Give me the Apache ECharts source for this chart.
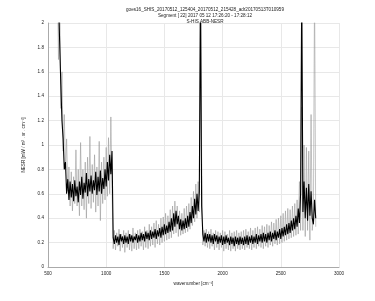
<!DOCTYPE html>
<html>
<head>
<meta charset="utf-8">
<script src="https://cdn.jsdelivr.net/npm/echarts@6/dist/echarts.min.js"></script>
<style>html,body{margin:0;padding:0;background:#fff}#c{width:375px;height:301px}</style>
</head>
<body>
<div id="c"></div>
<script>
// wavenumber grid [cm^-1]
var wavenumber = [
580,590,600,610,620,630,640,650,660,670,
680,690,700,710,720,730,740,750,760,770,
780,790,800,810,820,830,840,850,860,870,
880,890,900,910,920,930,940,950,960,970,
980,990,1000,1010,1020,1030,1040,1050,1060,1070,
1080,1090,1100,1110,1120,1130,1140,1150,1160,1170,
1180,1190,1200,1210,1220,1230,1240,1250,1260,1270,
1280,1290,1300,1310,1320,1330,1340,1350,1360,1370,
1380,1390,1400,1410,1420,1430,1440,1450,1460,1470,
1480,1490,1500,1510,1520,1530,1540,1550,1560,1570,
1580,1590,1600,1610,1620,1630,1640,1650,1660,1670,
1680,1690,1700,1710,1720,1730,1740,1750,1760,1770,
1780,1790,1800,1810,1820,1830,1840,1850,1860,1870,
1880,1890,1900,1910,1920,1930,1940,1950,1960,1970,
1980,1990,2000,2010,2020,2030,2040,2050,2060,2070,
2080,2090,2100,2110,2120,2130,2140,2150,2160,2170,
2180,2190,2200,2210,2220,2230,2240,2250,2260,2270,
2280,2290,2300,2310,2320,2330,2340,2350,2360,2370,
2380,2390,2400,2410,2420,2430,2440,2450,2460,2470,
2480,2490,2500,2510,2520,2530,2540,2550,2560,2570,
2580,2590,2600,2610,2620,2630,2640,2650,2660,2670,
2680,2690,2700,2710,2720,2730,2740,2750,2760,2770,
2780,2790,2800
];
// dense core trace (black)
var nesrCore = [
2.4,2.2,1.85,1.5,1.2,1.05,0.8,0.86,0.6,0.72,
0.55,0.7,0.57,0.68,0.54,0.71,0.58,0.66,0.53,0.7,
0.59,0.74,0.56,0.69,0.61,0.77,0.58,0.72,0.62,0.75,
0.6,0.71,0.63,0.78,0.59,0.74,0.62,0.79,0.6,0.73,
0.64,0.8,0.66,0.86,0.71,0.92,0.76,0.95,0.24,0.19,
0.26,0.2,0.25,0.18,0.27,0.21,0.25,0.19,0.26,0.2,
0.25,0.19,0.27,0.21,0.26,0.2,0.25,0.22,0.27,0.2,
0.26,0.21,0.28,0.22,0.27,0.21,0.29,0.23,0.28,0.22,
0.3,0.23,0.29,0.24,0.31,0.23,0.3,0.25,0.32,0.24,
0.33,0.26,0.35,0.27,0.34,0.28,0.37,0.29,0.4,0.3,
0.44,0.33,0.46,0.35,0.42,0.31,0.39,0.3,0.38,0.31,
0.4,0.32,0.42,0.33,0.45,0.36,0.5,0.4,0.56,0.43,
0.6,0.46,0.62,2.3,0.5,0.27,0.21,0.28,0.2,0.27,
0.21,0.27,0.2,0.26,0.19,0.27,0.21,0.26,0.19,0.25,
0.2,0.26,0.18,0.25,0.19,0.26,0.2,0.24,0.18,0.25,
0.19,0.24,0.17,0.25,0.19,0.24,0.18,0.25,0.19,0.24,
0.18,0.25,0.19,0.26,0.18,0.25,0.2,0.26,0.19,0.25,
0.2,0.27,0.19,0.26,0.21,0.27,0.2,0.28,0.21,0.27,
0.2,0.28,0.22,0.29,0.21,0.28,0.23,0.3,0.22,0.29,
0.24,0.31,0.23,0.32,0.25,0.33,0.26,0.35,0.27,0.36,
0.28,0.38,0.3,0.4,0.31,0.42,0.33,0.48,0.36,0.6,
2.3,0.45,0.7,0.4,0.65,0.38,0.68,0.42,0.62,0.4,
0.35,0.55,0.4
];
// outlier trace (gray)
var nesrSpread = [
2.5,1.7,2.4,1.3,1.6,0.95,1.25,0.8,1.05,0.62,
0.82,0.5,0.78,0.46,0.74,0.52,0.96,0.5,0.8,0.42,
1.02,0.5,0.8,0.47,0.86,0.4,0.9,0.52,1.07,0.48,
0.84,0.53,0.92,0.45,0.82,0.5,1.03,0.38,0.86,0.52,
0.9,0.55,0.98,0.58,1.06,0.6,1.23,0.66,0.15,0.3,
0.14,0.28,0.17,0.31,0.13,0.27,0.16,0.3,0.12,0.28,
0.16,0.3,0.14,0.27,0.13,0.32,0.15,0.28,0.14,0.3,
0.15,0.31,0.17,0.29,0.14,0.33,0.16,0.3,0.15,0.35,
0.17,0.33,0.18,0.36,0.16,0.38,0.19,0.35,0.18,0.4,
0.2,0.41,0.21,0.44,0.22,0.42,0.23,0.47,0.24,0.5,
0.27,0.54,0.28,0.5,0.25,0.46,0.26,0.44,0.27,0.48,
0.28,0.5,0.29,0.52,0.31,0.57,0.34,0.62,0.37,0.68,
0.4,0.7,0.45,2.3,0.9,0.18,0.3,0.17,0.31,0.16,
0.29,0.15,0.31,0.17,0.28,0.14,0.3,0.16,0.29,0.14,
0.28,0.16,0.3,0.13,0.29,0.15,0.27,0.14,0.3,0.13,
0.28,0.15,0.29,0.13,0.3,0.15,0.28,0.14,0.29,0.15,
0.3,0.14,0.31,0.16,0.29,0.15,0.32,0.14,0.3,0.16,
0.32,0.15,0.33,0.17,0.31,0.16,0.34,0.15,0.33,0.17,
0.35,0.16,0.34,0.18,0.37,0.17,0.36,0.19,0.39,0.18,
0.4,0.19,0.42,0.2,0.44,0.21,0.46,0.22,0.48,0.23,
0.47,0.24,0.5,0.25,0.52,0.26,0.55,0.27,0.7,0.3,
1.31,0.3,1.0,0.25,0.98,0.3,0.95,0.22,1.25,0.3,
0.4,2.3,0.33
];
var titleLines = [
  "goes16_SHIS_20170512_125404_20170512_215428_adr20170513T010959",
  "Segment [ 22] 2017 05 12 17:26:20 - 17:28:12",
  "S-HIS ABB-NESR"
];
var xName = "wavenumber [cm\u207B\u00B9]";
var yName = "NESR [mW / m\u00B2 . sr . cm\u207B\u00B9]";

function pairs(xs, ys){ return xs.map(function(x,i){ return [x, ys[i]]; }); }

var chart = echarts.init(document.getElementById('c'), null, {renderer:'canvas'});
var font = 'Liberation Sans, Arial, sans-serif';
chart.setOption({
  animation: false,
  backgroundColor: '#fff',
  title: {
    text: titleLines.join('\n'),
    left: 200, top: 2, textAlign: 'center',
    textStyle: {fontSize: 4.6, fontWeight: 'normal', color: '#222', lineHeight: 6, fontFamily: font}
  },
  grid: {left: 48, right: 36, top: 23, bottom: 34, show: false},
  xAxis: {
    type: 'value', min: 500, max: 3000, interval: 500,
    name: xName, nameLocation: 'middle', nameGap: 12,
    nameTextStyle: {fontSize: 4.6, color: '#222', fontFamily: font},
    axisLine: {show: true, lineStyle: {color: '#aaa', width: 1}},
    axisTick: {show: false},
    axisLabel: {fontSize: 4.6, color: '#222', margin: 4, fontFamily: font,
      formatter: function(v){ return String(v); }},
    splitLine: {show: true, lineStyle: {color: '#e8e8e8', width: 1}}
  },
  yAxis: {
    type: 'value', min: 0, max: 2, interval: 0.2,
    name: yName, nameLocation: 'middle', nameGap: 11, nameRotate: 90,
    nameTextStyle: {fontSize: 4.6, color: '#222', fontFamily: font},
    axisLine: {show: true, lineStyle: {color: '#aaa', width: 1}},
    axisTick: {show: false},
    axisLabel: {fontSize: 4.6, color: '#222', margin: 4, fontFamily: font,
      formatter: function(v){ return String(Math.round(v*10)/10); }},
    splitLine: {show: true, lineStyle: {color: '#e8e8e8', width: 1}}
  },
  series: [
    {type: 'line', data: pairs(wavenumber, nesrSpread), showSymbol: false, clip: true,
     lineStyle: {color: '#9a9a9a', width: 0.6}, z: 2},
    {type: 'line', data: pairs(wavenumber, nesrCore), showSymbol: false, clip: true,
     lineStyle: {color: '#000', width: 1.1}, z: 3}
  ]
});
</script>
</body>
</html>
